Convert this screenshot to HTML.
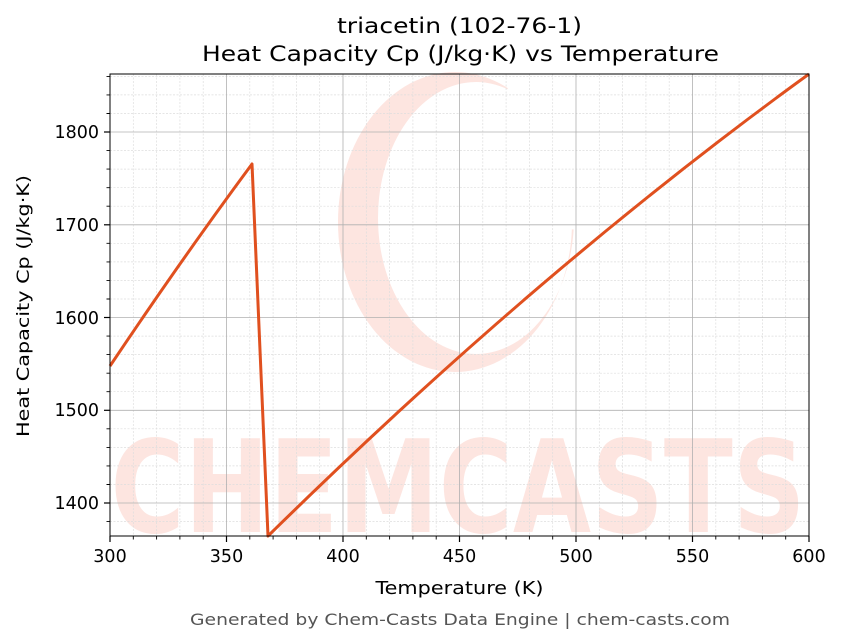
<!DOCTYPE html>
<html><head><meta charset="utf-8"><style>
body{margin:0;background:#fff;}
svg{display:block;font-family:"DejaVu Sans","Liberation Sans",sans-serif;}
</style></head><body>
<svg width="843" height="644" viewBox="0 0 843 644" xmlns="http://www.w3.org/2000/svg">
<defs>
<clipPath id="cw"><polygon points="0,0 540,0 460,220 700,240 700,644 0,644"/></clipPath>
</defs>
<rect width="843" height="644" fill="#fff"/>
<!-- watermark -->
<g opacity="0.16" fill="#f05a3c">
<path clip-path="url(#cw)" fill-rule="evenodd" d="M338 222 A117 150 0 1 0 572 222 A117 150 0 1 0 338 222 Z M378 218 A98 136 0 1 0 574 218 A98 136 0 1 0 378 218 Z"/>
<text x="458" y="532" font-size="128" font-weight="bold" text-anchor="middle" textLength="695" lengthAdjust="spacingAndGlyphs">CHEMCASTS</text>
</g>
<g stroke="#ddd" stroke-width="0.7" stroke-dasharray="2,1.5">
<line x1="133.3" y1="74" x2="133.3" y2="536"/><line x1="156.6" y1="74" x2="156.6" y2="536"/><line x1="179.9" y1="74" x2="179.9" y2="536"/><line x1="203.2" y1="74" x2="203.2" y2="536"/>
<line x1="249.8" y1="74" x2="249.8" y2="536"/><line x1="273.1" y1="74" x2="273.1" y2="536"/><line x1="296.4" y1="74" x2="296.4" y2="536"/><line x1="319.7" y1="74" x2="319.7" y2="536"/>
<line x1="366.3" y1="74" x2="366.3" y2="536"/><line x1="389.6" y1="74" x2="389.6" y2="536"/><line x1="412.9" y1="74" x2="412.9" y2="536"/><line x1="436.2" y1="74" x2="436.2" y2="536"/>
<line x1="482.8" y1="74" x2="482.8" y2="536"/><line x1="506.1" y1="74" x2="506.1" y2="536"/><line x1="529.4" y1="74" x2="529.4" y2="536"/><line x1="552.7" y1="74" x2="552.7" y2="536"/>
<line x1="599.3" y1="74" x2="599.3" y2="536"/><line x1="622.6" y1="74" x2="622.6" y2="536"/><line x1="645.9" y1="74" x2="645.9" y2="536"/><line x1="669.2" y1="74" x2="669.2" y2="536"/>
<line x1="715.8" y1="74" x2="715.8" y2="536"/><line x1="739.1" y1="74" x2="739.1" y2="536"/><line x1="762.4" y1="74" x2="762.4" y2="536"/><line x1="785.7" y1="74" x2="785.7" y2="536"/>
<line x1="110" y1="76.4" x2="809" y2="76.4"/><line x1="110" y1="94.9" x2="809" y2="94.9"/><line x1="110" y1="113.5" x2="809" y2="113.5"/>
<line x1="110" y1="150.6" x2="809" y2="150.6"/><line x1="110" y1="169.1" x2="809" y2="169.1"/><line x1="110" y1="187.7" x2="809" y2="187.7"/><line x1="110" y1="206.2" x2="809" y2="206.2"/>
<line x1="110" y1="243.3" x2="809" y2="243.3"/><line x1="110" y1="261.9" x2="809" y2="261.9"/><line x1="110" y1="280.4" x2="809" y2="280.4"/><line x1="110" y1="299" x2="809" y2="299"/>
<line x1="110" y1="336.1" x2="809" y2="336.1"/><line x1="110" y1="354.6" x2="809" y2="354.6"/><line x1="110" y1="373.2" x2="809" y2="373.2"/><line x1="110" y1="391.7" x2="809" y2="391.7"/>
<line x1="110" y1="428.8" x2="809" y2="428.8"/><line x1="110" y1="447.4" x2="809" y2="447.4"/><line x1="110" y1="465.9" x2="809" y2="465.9"/><line x1="110" y1="484.5" x2="809" y2="484.5"/>
<line x1="110" y1="521.6" x2="809" y2="521.6"/>
</g>
<g stroke="#b0b0b0" stroke-width="0.8">
<line x1="226.5" y1="74" x2="226.5" y2="536"/><line x1="343" y1="74" x2="343" y2="536"/><line x1="459.5" y1="74" x2="459.5" y2="536"/><line x1="576" y1="74" x2="576" y2="536"/><line x1="692.5" y1="74" x2="692.5" y2="536"/>
<line x1="110" y1="132" x2="809" y2="132"/><line x1="110" y1="224.8" x2="809" y2="224.8"/><line x1="110" y1="317.5" x2="809" y2="317.5"/><line x1="110" y1="410.3" x2="809" y2="410.3"/><line x1="110" y1="503" x2="809" y2="503"/>
</g>
<path fill="none" stroke="#e0501f" stroke-width="3" stroke-linejoin="round" d="M110 366 Q181 260 252 164 L268 536 Q538.5 270 809 74"/>
<rect x="110" y="74" width="699" height="462" fill="none" stroke="#000" stroke-width="1"/>
<g stroke="#000" stroke-width="1.2">
<line x1="110" y1="536" x2="110" y2="542"/><line x1="226.5" y1="536" x2="226.5" y2="542"/><line x1="343" y1="536" x2="343" y2="542"/><line x1="459.5" y1="536" x2="459.5" y2="542"/><line x1="576" y1="536" x2="576" y2="542"/><line x1="692.5" y1="536" x2="692.5" y2="542"/><line x1="809" y1="536" x2="809" y2="542"/>
<line x1="104" y1="132" x2="110" y2="132"/><line x1="104" y1="224.8" x2="110" y2="224.8"/><line x1="104" y1="317.5" x2="110" y2="317.5"/><line x1="104" y1="410.3" x2="110" y2="410.3"/><line x1="104" y1="503" x2="110" y2="503"/>
</g>
<g stroke="#000" stroke-width="0.9">
<path d="M133.3 536v3.5M156.6 536v3.5M179.9 536v3.5M203.2 536v3.5M249.8 536v3.5M273.1 536v3.5M296.4 536v3.5M319.7 536v3.5M366.3 536v3.5M389.6 536v3.5M412.9 536v3.5M436.2 536v3.5M482.8 536v3.5M506.1 536v3.5M529.4 536v3.5M552.7 536v3.5M599.3 536v3.5M622.6 536v3.5M645.9 536v3.5M669.2 536v3.5M715.8 536v3.5M739.1 536v3.5M762.4 536v3.5M785.7 536v3.5"/>
<path d="M110 76.4h-3.5M110 94.9h-3.5M110 113.5h-3.5M110 150.6h-3.5M110 169.1h-3.5M110 187.7h-3.5M110 206.2h-3.5M110 243.3h-3.5M110 261.9h-3.5M110 280.4h-3.5M110 299h-3.5M110 336.1h-3.5M110 354.6h-3.5M110 373.2h-3.5M110 391.7h-3.5M110 428.8h-3.5M110 447.4h-3.5M110 465.9h-3.5M110 484.5h-3.5M110 521.6h-3.5"/>
</g>
<g font-size="17.5" fill="#000" text-anchor="middle">
<text x="110" y="562">300</text><text x="226.5" y="562">350</text><text x="343" y="562">400</text><text x="459.5" y="562">450</text><text x="576" y="562">500</text><text x="692.5" y="562">550</text><text x="809" y="562">600</text>
</g>
<g font-size="17.5" fill="#000" text-anchor="end">
<text x="99" y="138">1800</text><text x="99" y="231">1700</text><text x="99" y="324">1600</text><text x="99" y="416">1500</text><text x="99" y="509">1400</text>
</g>
<text x="459.5" y="594" font-size="18" text-anchor="middle" textLength="168" lengthAdjust="spacingAndGlyphs">Temperature (K)</text>
<text transform="translate(29,306) rotate(-90)" font-size="17" text-anchor="middle" textLength="262" lengthAdjust="spacingAndGlyphs">Heat Capacity Cp (J/kg·K)</text>
<text x="459.5" y="33" font-size="21" text-anchor="middle" textLength="245" lengthAdjust="spacingAndGlyphs">triacetin (102-76-1)</text>
<text x="460.5" y="61" font-size="21" text-anchor="middle" textLength="517" lengthAdjust="spacingAndGlyphs">Heat Capacity Cp (J/kg·K) vs Temperature</text>
<text x="460" y="625" font-size="16" fill="#555" text-anchor="middle" textLength="540" lengthAdjust="spacingAndGlyphs">Generated by Chem-Casts Data Engine | chem-casts.com</text>
</svg>
</body></html>
